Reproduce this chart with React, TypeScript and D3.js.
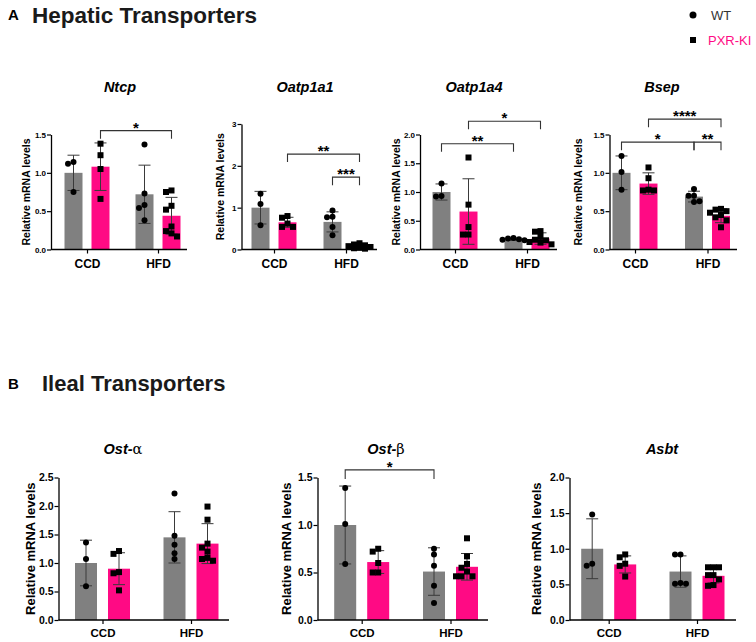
import React, { useEffect, useRef } from 'react';
import * as d3 from 'd3';

// bar order in every panel: WT CCD, PXR-KI CCD, WT HFD, PXR-KI HFD
const groups = ['CCD', 'HFD'];
const genotypes = ['WT', 'PXR-KI'];

const ntcpMeans = [1.0, 1.08, 0.72, 0.44];
const ntcpSd = [0.23, 0.31, 0.38, 0.24];
const ntcpPoints = [[1.14, 1.12, 0.75], [1.38, 1.23, 1.05, 0.66], [1.37, 0.73, 0.58, 0.54, 0.38], [0.77, 0.75, 0.57, 0.52, 0.3, 0.24, 0.21, 0.17]];
const ntcpTicks = ['0.0', '0.5', '1.0', '1.5'];
const ntcpSig = [{ from: 1, to: 3, label: '*', y: 1.55 }];

const oatp1a1Means = [1.0, 0.65, 0.66, 0.07];
const oatp1a1Sd = [0.39, 0.12, 0.24, 0.05];
const oatp1a1Points = [[1.33, 1.09, 0.58], [0.8, 0.76, 0.62, 0.54, 0.54], [0.93, 0.78, 0.77, 0.54, 0.34], [0.15, 0.12, 0.1, 0.08, 0.06, 0.04, 0.03, 0.02]];
const oatp1a1Ticks = ['0', '1', '2', '3'];
const oatp1a1Sig = [{ from: 1, to: 3, label: '**', y: 2.28 }, { from: 2, to: 3, label: '***', y: 1.73 }];

const oatp1a4Means = [1.0, 0.66, 0.18, 0.19];
const oatp1a4Sd = [0.14, 0.57, 0.02, 0.1];
const oatp1a4Points = [[1.15, 0.92, 0.93], [1.6, 0.78, 0.39, 0.26, 0.26], [0.2, 0.19, 0.18, 0.17, 0.16], [0.32, 0.31, 0.22, 0.17, 0.16, 0.13, 0.12, 0.09]];
const oatp1a4Ticks = ['0.0', '0.5', '1.0', '1.5', '2.0'];
const oatp1a4Sig = [{ from: 0, to: 2, label: '**', y: 1.84 }, { from: 1, to: 3, label: '*', y: 2.23 }];

const bsepMeans = [1.0, 0.86, 0.69, 0.44];
const bsepSd = [0.22, 0.14, 0.07, 0.09];
const bsepPoints = [[1.22, 1.01, 0.78], [1.07, 0.93, 0.78, 0.77, 0.77], [0.79, 0.7, 0.7, 0.62, 0.63], [0.53, 0.52, 0.5, 0.48, 0.45, 0.42, 0.38, 0.29]];
const bsepTicks = ['0.0', '0.5', '1.0', '1.5'];
const bsepSig = [{ from: 1, to: 3, label: '****', y: 1.7 }, { from: 0, to: 2, label: '*', y: 1.4 }, { from: 2, to: 3, label: '**', y: 1.4 }];

const ostAMeans = [1.0, 0.9, 1.45, 1.34];
const ostASd = [0.4, 0.28, 0.45, 0.35];
const ostAPoints = [[1.36, 1.07, 0.59], [1.21, 1.16, 0.84, 0.82, 0.52], [2.22, 1.48, 1.32, 1.17, 1.07], [1.99, 1.76, 1.34, 1.27, 1.2, 1.09, 1.07, 1.04]];
const ostATicks = ['0.0', '0.5', '1.0', '1.5', '2.0', '2.5'];

const ostBMeans = [1.0, 0.61, 0.51, 0.56];
const ostBSd = [0.41, 0.12, 0.25, 0.14];
const ostBPoints = [[1.39, 1.01, 0.59], [0.75, 0.72, 0.6, 0.5, 0.5], [0.75, 0.69, 0.57, 0.36, 0.18], [0.86, 0.67, 0.59, 0.55, 0.51, 0.46, 0.46, 0.46]];
const ostBTicks = ['0.0', '0.5', '1.0', '1.5'];
const ostBSig = [{ from: 0, to: 2, label: '*', y: 1.58 }];

const asbtMeans = [1.0, 0.78, 0.68, 0.62];
const asbtSd = [0.42, 0.12, 0.22, 0.1];
const asbtPoints = [[1.48, 0.79, 0.76], [0.92, 0.88, 0.79, 0.76, 0.61], [0.92, 0.92, 0.52, 0.51, 0.51], [0.74, 0.74, 0.74, 0.63, 0.63, 0.57, 0.49, 0.48]];
const asbtTicks = ['0.0', '0.5', '1.0', '1.5', '2.0'];

const GRAY = '#808080';
const PINK = '#ff0a84';
const FONT = '"Liberation Sans", Arial, sans-serif';

interface Sig { from: number; to: number; label: string; y: number }
interface Panel {
  title: string; greek?: string;
  means: number[]; sd: number[]; points: number[][]; ticks: string[]; sig: Sig[];
  axisX: number; axisEnd: number; yTop: number; yBottom: number; centers: [number, number];
  barW: number; barOff: number; titleX: number; titleY: number; labelOff: number;
  tickFont: number; labelFont: number; catFont: number; catY: number; titleFont: number; starFont: number;
}

const top = { yBottom: 249.5, barW: 18, barOff: 13.5, titleY: 92, tickFont: 8, labelFont: 10.5, catFont: 12, catY: 268, titleFont: 14.5, starFont: 15 };
const bottom = { yTop: 477.5, yBottom: 620, barW: 22, barOff: 16.5, titleY: 454, tickFont: 10.5, labelFont: 13, catFont: 11.5, catY: 637, titleFont: 14.5, starFont: 15 };

const panels: Panel[] = [
  { ...top, title: 'Ntcp', means: ntcpMeans, sd: ntcpSd, points: ntcpPoints, ticks: ntcpTicks, sig: ntcpSig, axisX: 51, axisEnd: 187, yTop: 134.5, centers: [87, 158], titleX: 120, labelOff: -24 },
  { ...top, title: 'Oatp1a1', means: oatp1a1Means, sd: oatp1a1Sd, points: oatp1a1Points, ticks: oatp1a1Ticks, sig: oatp1a1Sig, axisX: 241.5, axisEnd: 377, yTop: 124, centers: [274, 346], titleX: 305, labelOff: -20 },
  { ...top, title: 'Oatp1a4', means: oatp1a4Means, sd: oatp1a4Sd, points: oatp1a4Points, ticks: oatp1a4Ticks, sig: oatp1a4Sig, axisX: 420, axisEnd: 557, yTop: 134.5, centers: [455, 527], titleX: 474, labelOff: -23 },
  { ...top, title: 'Bsep', means: bsepMeans, sd: bsepSd, points: bsepPoints, ticks: bsepTicks, sig: bsepSig, axisX: 609.5, axisEnd: 737, yTop: 134.5, centers: [635, 707.5], titleX: 662, labelOff: -30 },
  { ...bottom, title: 'Ost-', greek: 'α', means: ostAMeans, sd: ostASd, points: ostAPoints, ticks: ostATicks, sig: [], axisX: 58.5, axisEnd: 229, centers: [102.5, 191], titleX: 123, labelOff: -27 },
  { ...bottom, title: 'Ost-', greek: 'β', means: ostBMeans, sd: ostBSd, points: ostBPoints, ticks: ostBTicks, sig: ostBSig, axisX: 317.5, axisEnd: 488, centers: [361.7, 450.5], titleX: 386, labelOff: -30 },
  { ...bottom, title: 'Asbt', means: asbtMeans, sd: asbtSd, points: asbtPoints, ticks: asbtTicks, sig: [], axisX: 569.5, axisEnd: 736, centers: [608.7, 697], titleX: 662, labelOff: -32 },
];

// GraphPad-like scatter: spread points sideways when they would overlap
function swarm(values: number[], y: (v: number) => number, d: number) {
  const placed: { x: number; y: number }[] = [];
  const out: { x: number; y: number }[] = new Array(values.length);
  const order = values.map((v, i) => ({ v, i })).sort((a, b) => b.v - a.v);
  const cands = [0, -1, 1, -2, 2];
  for (const o of order) {
    const py = y(o.v);
    let off = 0;
    let best = Infinity;
    for (const c of cands) {
      const dx = c * d;
      const hits = placed.filter(p => Math.abs(p.x - dx) < d - 0.1 && Math.abs(p.y - py) < d).length;
      if (hits < best) { best = hits; off = dx; }
      if (hits === 0) break;
    }
    placed.push({ x: off, y: py });
    out[o.i] = { x: off, y: py };
  }
  return out;
}

export default function App() {
  const svgRef = useRef<SVGSVGElement>(null);

  useEffect(() => {
    if (!svgRef.current) return;
    const svg = d3.select(svgRef.current);
    svg.selectAll('*').remove();
    svg.attr('font-family', FONT);

    // section headers
    svg.append('text').attr('x', 8).attr('y', 20).attr('font-size', 15).attr('font-weight', 'bold').text('A');
    svg.append('text').attr('x', 32).attr('y', 23).attr('font-size', 22.5).attr('font-weight', 'bold').attr('fill', '#1a1a1a').text('Hepatic Transporters');
    svg.append('text').attr('x', 8).attr('y', 389).attr('font-size', 15).attr('font-weight', 'bold').text('B');
    svg.append('text').attr('x', 42).attr('y', 391).attr('font-size', 22).attr('font-weight', 'bold').attr('fill', '#1a1a1a').text('Ileal Transporters');

    // legend
    svg.append('circle').attr('cx', 693).attr('cy', 15).attr('r', 3.5).attr('fill', '#000');
    svg.append('text').attr('x', 711).attr('y', 20).attr('font-size', 13).attr('fill', '#333').text(genotypes[0]);
    svg.append('rect').attr('x', 690).attr('y', 37).attr('width', 6).attr('height', 6).attr('fill', '#000');
    svg.append('text').attr('x', 708).attr('y', 45).attr('font-size', 13).attr('fill', PINK).text(genotypes[1]);

    panels.forEach(p => {
      const g = svg.append('g');
      const ymax = +p.ticks[p.ticks.length - 1];
      const y = d3.scaleLinear().domain([0, ymax]).range([p.yBottom, p.yTop]);
      const x = d3.scalePoint<string>().domain(groups).range(p.centers);
      const barX = (i: number) => x(groups[Math.floor(i / 2)])! + (i % 2 === 0 ? -p.barOff : p.barOff);

      // title
      const t = g.append('text').attr('x', p.titleX).attr('y', p.titleY).attr('text-anchor', 'middle')
        .attr('font-size', p.titleFont).attr('font-weight', 'bold').attr('font-style', 'italic').text(p.title);
      if (p.greek) {
        t.append('tspan').attr('font-family', '"DejaVu Serif", serif').attr('font-style', 'normal').attr('font-weight', 'normal').text(p.greek);
      }

      // bars
      g.selectAll('rect.bar').data(p.means).enter().append('rect')
        .attr('x', (_, i) => barX(i) - p.barW / 2)
        .attr('y', d => y(d))
        .attr('width', p.barW)
        .attr('height', d => p.yBottom - y(d))
        .attr('fill', (_, i) => (i % 2 === 0 ? GRAY : PINK));

      // error bars
      p.means.forEach((m, i) => {
        const cx = barX(i);
        const lo = y(Math.max(0, m - p.sd[i]));
        const hi = y(m + p.sd[i]);
        const eg = g.append('g').attr('stroke', '#3a3a3a').attr('stroke-width', 1);
        eg.append('line').attr('x1', cx).attr('x2', cx).attr('y1', lo).attr('y2', hi);
        eg.append('line').attr('x1', cx - 6).attr('x2', cx + 6).attr('y1', hi).attr('y2', hi);
        eg.append('line').attr('x1', cx - 6).attr('x2', cx + 6).attr('y1', lo).attr('y2', lo);
      });

      // points
      p.points.forEach((vals, i) => {
        const cx = barX(i);
        const pos = swarm(vals, y, 5.5);
        pos.forEach(pt => {
          if (i % 2 === 0) {
            g.append('circle').attr('cx', cx + pt.x).attr('cy', pt.y).attr('r', 3).attr('fill', '#000');
          } else {
            g.append('rect').attr('x', cx + pt.x - 3).attr('y', pt.y - 3).attr('width', 6).attr('height', 6).attr('fill', '#000');
          }
        });
      });

      // y axis
      const ya = g.append('g').attr('transform', `translate(${p.axisX},0)`)
        .call(d3.axisLeft(y).tickValues(p.ticks.map(Number)).tickFormat((_, i) => p.ticks[i]).tickSize(4).tickSizeOuter(0));
      ya.select('.domain').attr('stroke', '#000').attr('stroke-width', 1.3);
      ya.selectAll('.tick line').attr('stroke', '#000').attr('stroke-width', 1.2);
      ya.selectAll('.tick text').attr('font-size', p.tickFont).attr('font-weight', 'bold').attr('font-family', FONT).attr('fill', '#000').attr('x', -5);

      // x axis
      g.append('line').attr('x1', p.axisX).attr('x2', p.axisEnd).attr('y1', p.yBottom).attr('y2', p.yBottom)
        .attr('stroke', '#000').attr('stroke-width', 1.3);
      const xa = g.append('g').attr('transform', `translate(0,${p.yBottom})`)
        .call(d3.axisBottom(x).tickSize(4).tickSizeOuter(0));
      xa.select('.domain').remove();
      xa.selectAll('.tick line').attr('stroke', '#000').attr('stroke-width', 1.2);
      xa.selectAll('.tick text').attr('font-size', p.catFont).attr('font-weight', 'bold').attr('font-family', FONT).attr('fill', '#000')
        .attr('dy', null).attr('y', p.catY - p.yBottom);

      // y label
      g.append('text').attr('transform', `translate(${p.axisX + p.labelOff},${(p.yTop + p.yBottom) / 2}) rotate(-90)`)
        .attr('text-anchor', 'middle').attr('dominant-baseline', 'middle')
        .attr('font-size', p.labelFont).attr('font-weight', 'bold').text('Relative mRNA levels');

      // significance brackets
      p.sig.forEach(s => {
        const x1 = barX(s.from), x2 = barX(s.to), by = y(s.y);
        const drop = p.barW > 20 ? 9 : 8;
        g.append('path').attr('d', `M${x1},${by + drop}V${by}H${x2}V${by + drop}`)
          .attr('fill', 'none').attr('stroke', '#333').attr('stroke-width', 1.1);
        g.append('text').attr('x', (x1 + x2) / 2).attr('y', by + 2).attr('text-anchor', 'middle')
          .attr('font-size', p.starFont).attr('font-weight', 'bold').text(s.label);
      });
    });
  }, []);

  return (
    <div style={{ position: 'absolute', left: 0, top: 0, width: 756, height: 642, background: '#fff' }}>
      <svg ref={svgRef} width={756} height={642} />
    </div>
  );
}
